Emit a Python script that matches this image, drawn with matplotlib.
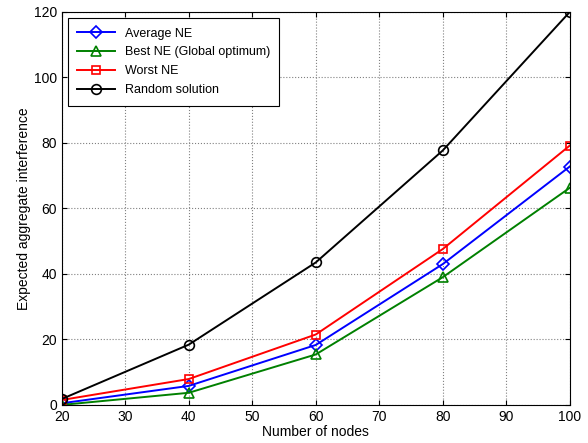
import matplotlib
matplotlib.use("Agg")
import matplotlib.pyplot as plt

plt.rcParams['font.family'] = ['Liberation Sans', 'DejaVu Sans']

nodes = [20, 40, 60, 80, 100]
average_ne = [0.5, 5.8, 18.3, 43.0, 72.8]
best_ne = [0.0, 3.7, 15.4, 39.0, 66.3]
worst_ne = [1.5, 7.9, 21.5, 47.6, 79.2]
random_sol = [1.8, 18.4, 43.5, 77.7, 120.0]

fig = plt.figure(figsize=(5.88, 4.43), dpi=100)
ax = fig.add_axes([0.105, 0.086, 0.864, 0.887])

ax.plot(nodes, average_ne, color='blue', marker='D', markersize=6, mfc='none', mew=1.2, lw=1.4, label='Average NE')
ax.plot(nodes, best_ne, color='green', marker='^', markersize=7, mfc='none', mew=1.2, lw=1.4, label='Best NE (Global optimum)')
ax.plot(nodes, worst_ne, color='red', marker='s', markersize=6, mfc='none', mew=1.2, lw=1.4, label='Worst NE')
ax.plot(nodes, random_sol, color='black', marker='o', markersize=7, mfc='none', mew=1.2, lw=1.4, label='Random solution')

ax.set_xlim(20, 100)
ax.set_ylim(0, 120)
ax.set_xticks(range(20, 101, 10))
ax.set_yticks(range(0, 121, 20))
ax.grid(True, linestyle=':', color='gray', lw=0.8)
ax.tick_params(direction='in', top=True, right=True, labelsize=10)
ax.set_xlabel('Number of nodes', fontsize=10, labelpad=1)
ax.set_ylabel('Expected aggregate interference', fontsize=10, labelpad=2)

leg = ax.legend(loc='upper left', fontsize=9, fancybox=False, edgecolor='black',
                framealpha=1, borderaxespad=0.5, handlelength=3.0, labelspacing=0.55,
                borderpad=0.75)
leg.get_frame().set_linewidth(0.8)

fig.savefig('out.png', dpi=100)
